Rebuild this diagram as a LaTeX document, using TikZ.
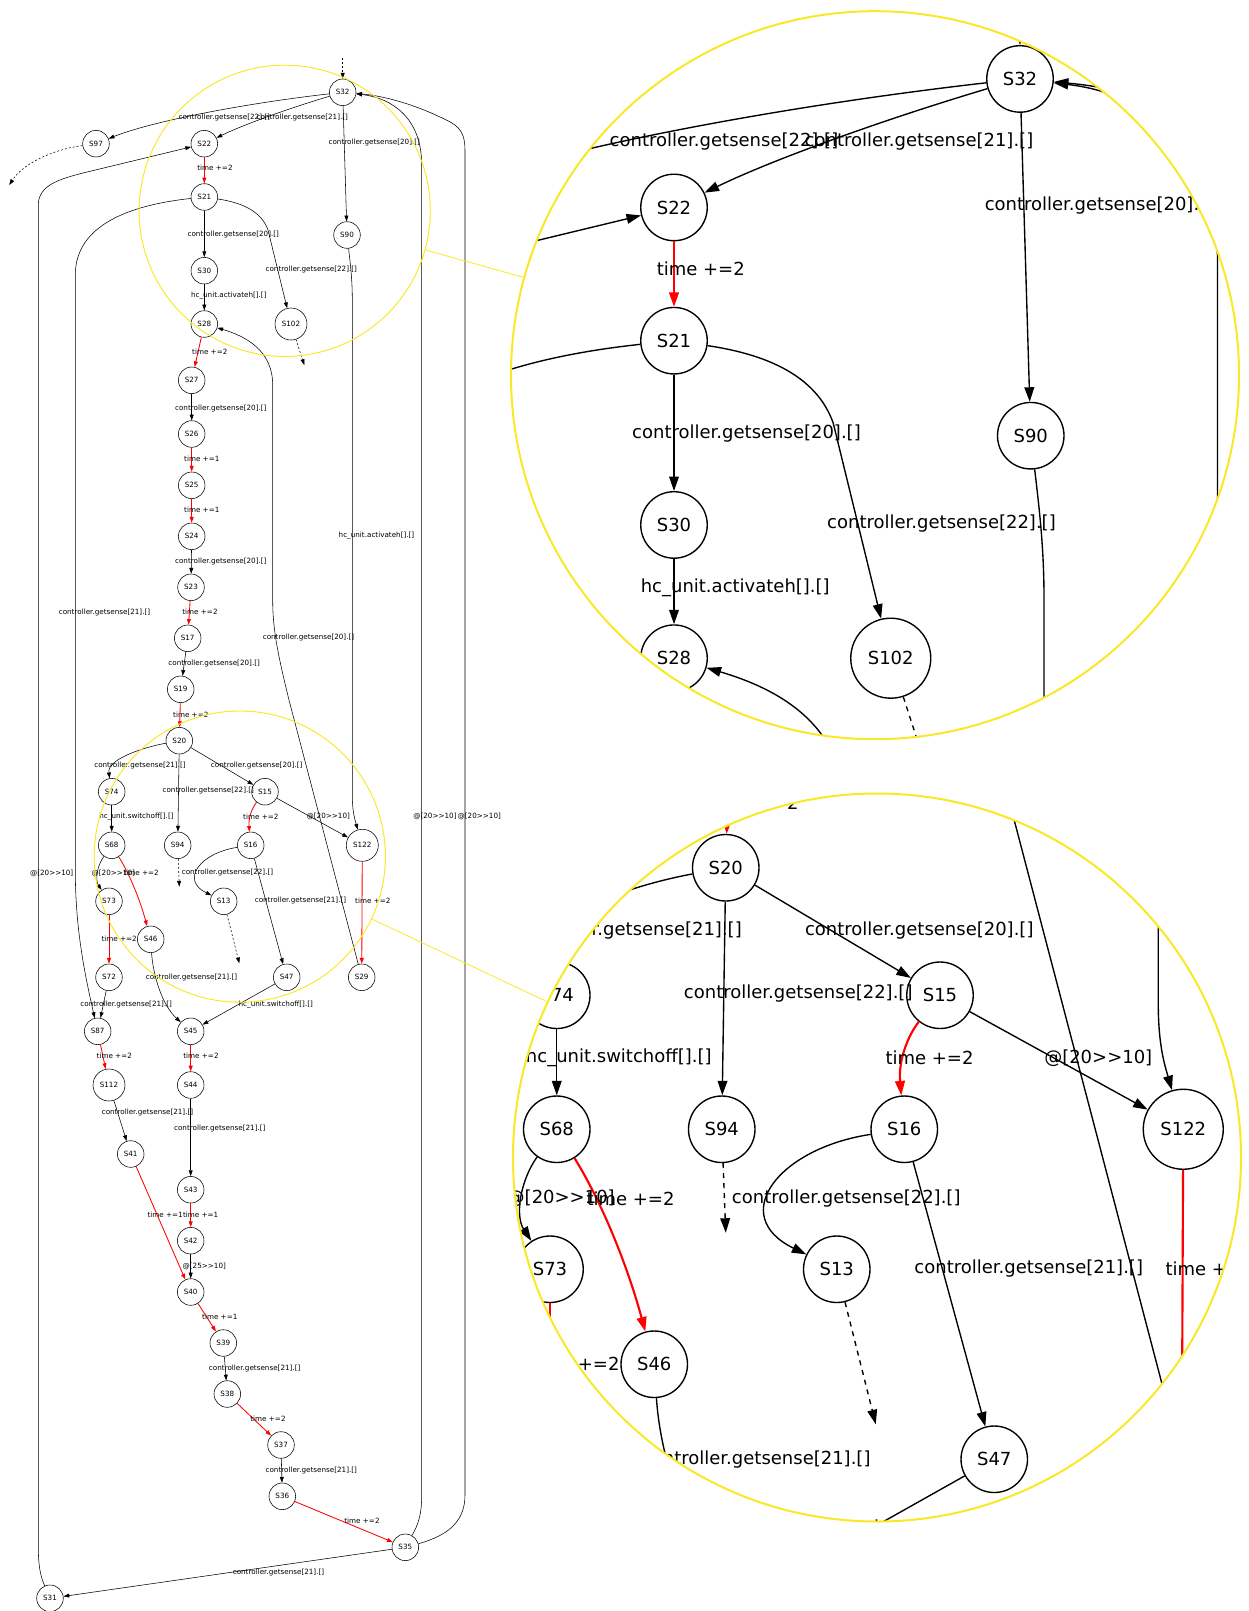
\documentclass[tikz,border=0pt]{standalone}
\usepackage{fontspec}
\setmainfont{DejaVu Sans}
\usetikzlibrary{arrows.meta,spy}

\definecolor{lupa}{RGB}{250,232,40}
\tikzset{
  estado/.style={draw, circle, line width=0.55pt, minimum size=26.6pt, inner sep=0pt},
  estadogrande/.style={estado, minimum size=32pt},
  arista/.style={-{Triangle[length=5.8pt,width=3.9pt]}, line width=0.55pt},
  roja/.style={arista, red, line width=0.85pt},
  libre/.style={arista, dash pattern=on 2pt off 2pt},
  etiqueta/.style={inner sep=0pt},
  foco/.style={circle, draw=lupa, line width=0.9pt, minimum size=291.2pt, inner sep=0pt},
  lente/.style={circle, draw=lupa, line width=2pt, minimum size=728pt, inner sep=0pt},
}

\begin{document}
\begin{tikzpicture}[x=1pt, y=-1pt, font=\fontsize{7.2}{8.6}\selectfont]
  \useasboundingbox (0,0) rectangle (1248,1611);

  \begin{scope}[spy using outlines={circle, lupa, magnification=2.5, size=728pt}]
  % Estados
  \node[estado] (S32) at (342.7,92.3) {S32};
  \node[estado] (S97) at (96,143.7) {S97};
  \node[estado] (S22) at (204.3,143.7) {S22};
  \node[estado] (S21) at (204.3,197) {S21};
  \node[estado] (S90) at (347,235) {S90};
  \node[estado] (S30) at (204.3,270.7) {S30};
  \node[estado] (S28) at (204.3,324) {S28};
  \node[estadogrande] (S102) at (291,324) {S102};
  \node[estado] (S27) at (191.7,380.3) {S27};
  \node[estado] (S26) at (191.7,434) {S26};
  \node[estado] (S25) at (191.7,485.3) {S25};
  \node[estado] (S24) at (191.7,536.3) {S24};
  \node[estado] (S23) at (191,587.3) {S23};
  \node[estado] (S17) at (187.7,638.3) {S17};
  \node[estado] (S19) at (180.7,689.3) {S19};
  \node[estado] (S20) at (179.3,740.7) {S20};
  \node[estado] (S74) at (111.7,791.7) {S74};
  \node[estado] (S15) at (265,791.7) {S15};
  \node[estado] (S68) at (111.7,845.3) {S68};
  \node[estado] (S94) at (177.7,845.3) {S94};
  \node[estado] (S16) at (250.7,845.3) {S16};
  \node[estadogrande] (S122) at (362.3,845.3) {S122};
  \node[estado] (S73) at (109,901.3) {S73};
  \node[estado] (S13) at (223.7,901.3) {S13};
  \node[estado] (S46) at (150.7,939.3) {S46};
  \node[estado] (S72) at (109,977.3) {S72};
  \node[estado] (S47) at (286.7,977.3) {S47};
  \node[estado] (S29) at (361.7,977.3) {S29};
  \node[estado] (S87) at (97.7,1031.3) {S87};
  \node[estado] (S45) at (190.7,1031.3) {S45};
  \node[estadogrande] (S112) at (109,1085) {S112};
  \node[estado] (S44) at (190.7,1085) {S44};
  \node[estado] (S41) at (130.7,1154) {S41};
  \node[estado] (S43) at (190.7,1189.7) {S43};
  \node[estado] (S42) at (190.7,1240.7) {S42};
  \node[estado] (S40) at (190.7,1292) {S40};
  \node[estado] (S39) at (223.3,1343) {S39};
  \node[estado] (S38) at (227.3,1394) {S38};
  \node[estado] (S37) at (281,1445) {S37};
  \node[estado] (S36) at (282.3,1496.3) {S36};
  \node[estado] (S35) at (405.3,1547.3) {S35};
  \node[estado] (S31) at (50,1598.3) {S31};

  % Extremos libres
  \coordinate (inicio) at (342.7,58);
  \coordinate (d97) at (9.3,185);
  \coordinate (d102) at (304.3,365);
  \coordinate (d94) at (179.3,886.7);
  \coordinate (d13) at (239.3,963.3);

  % Aristas rectas
  \foreach \from/\to in {S32/S90, S21/S30, S30/S28, S27/S26, S24/S23, S17/S19, S20/S94, S20/S15,
    S74/S68, S15/S122, S16/S47, S47/S45, S72/S87, S44/S43, S112/S41, S42/S40, S39/S38, S37/S36, S35/S31}
    \draw[arista] (\from) -- (\to);
  \foreach \from/\to in {S22/S21, S28/S27, S26/S25, S25/S24, S23/S17, S19/S20, S122/S29, S73/S72,
    S87/S112, S45/S44, S43/S42, S40/S39, S38/S37, S36/S35, S41/S40}
    \draw[roja] (\from) -- (\to);
  \foreach \from/\to in {inicio/S32, S102/d102, S94/d94, S13/d13}
    \draw[libre] (\from) -- (\to);

  % Aristas curvas
  \draw[libre] (S97) .. controls (50,150) and (22,165) .. (d97);
  \draw[arista] (S32) .. controls (240,104) and (150,122) .. (S97);
  \draw[arista] (S32) .. controls (290,108) and (245,124) .. (S22);
  \draw[arista] (S35) .. controls (418,1525) and (421.7,1515) .. (421.7,1495) -- (421.7,165)
    .. controls (421.7,118) and (392,98) .. (S32);
  \draw[arista] (S35) .. controls (450,1535) and (465,1520) .. (465,1495) -- (465,150)
    .. controls (465,128) and (455,124) .. (440,117) .. controls (415,105) and (385,96) .. (S32);
  \draw[arista] (S21) .. controls (245,203) and (262,213) .. (268,230) -- (S102);
  \draw[arista] (S21) .. controls (130,205) and (75.3,225) .. (75.3,275) -- (75.3,870)
    .. controls (75.3,930) and (85,975) .. (S87);
  \draw[arista] (S29) -- (289,700) .. controls (278,655) and (272.7,630) .. (272.7,600) -- (272.7,385)
    .. controls (272.7,350) and (245,336) .. (S28);
  \draw[arista] (S31) .. controls (40,1575) and (38.3,1565) .. (38.3,1545) -- (38.3,205)
    .. controls (38.3,185) and (60,179) .. (83,173) -- (S22);
  \draw[arista] (S90) .. controls (350.5,265) and (352.3,280) .. (352.3,300) -- (352.3,795)
    .. controls (352.3,812) and (355,820) .. (S122);
  \draw[arista] (S20) .. controls (140,748) and (107,760) .. (S74);
  \draw[roja] (S15) .. controls (252,808) and (248.3,818) .. (S16);
  \draw[arista] (S68) .. controls (97,866) and (95,880) .. (S73);
  \draw[roja] (S68) .. controls (130,875) and (140,900) .. (S46);
  \draw[arista] (S16) .. controls (200,853) and (180,880) .. (S13);
  \draw[arista] (S46) .. controls (153,975) and (162,1005) .. (S45);

  % Etiquetas
  \node[etiqueta] (e1) at (224.3,117.3) {controller.getsense[22].[]};
  \node[etiqueta] (e2) at (302.3,117.3) {controller.getsense[21].[]};
  \node[etiqueta] (e3) at (374.3,143) {controller.getsense[20].[]};
  \node[etiqueta] (e4) at (215,168.3) {time +=2};
  \node[etiqueta] (e5) at (233.3,234.3) {controller.getsense[20].[]};
  \node[etiqueta] (e6) at (311.3,270) {controller.getsense[22].[]};
  \node[etiqueta] (e7) at (228.8,295.7) {hc\_unit.activateh[].[]};
  \node[etiqueta] (e8) at (209.8,351.7) {time +=2};
  \node[etiqueta] (e9) at (220.8,408.3) {controller.getsense[20].[]};
  \node[etiqueta] (e10) at (201.8,459) {time +=1};
  \node[etiqueta] (e11) at (201.8,510.3) {time +=1};
  \node[etiqueta] (e12) at (220.8,561.3) {controller.getsense[20].[]};
  \node[etiqueta] (e13) at (200,612.3) {time +=2};
  \node[etiqueta] (e14) at (104.5,612.3) {controller.getsense[21].[]};
  \node[etiqueta] (e15) at (308.5,638) {controller.getsense[20].[]};
  \node[etiqueta] (e16) at (214.2,663.3) {controller.getsense[20].[]};
  \node[etiqueta] (e17) at (376.5,535.7) {hc\_unit.activateh[].[]};
  \node[etiqueta] (e18) at (190.8,714.7) {time +=2};
  \node[etiqueta] (e19) at (140,765.7) {controller.getsense[21].[]};
  \node[etiqueta] (e20) at (256.7,765.7) {controller.getsense[20].[]};
  \node[etiqueta] (e21) at (208.3,791) {controller.getsense[22].[]};
  \node[etiqueta] (e22) at (136.5,816.7) {hc\_unit.switchoff[].[]};
  \node[etiqueta] (e23) at (260.8,816.7) {time +=2};
  \node[etiqueta] (e24) at (328.3,816.7) {@[20>{}>10]};
  \node[etiqueta] (e25) at (435,816.7) {@[20>{}>10]};
  \node[etiqueta] (e26) at (479.3,816.7) {@[20>{}>10]};
  \node[etiqueta] (e27) at (51.7,873) {@[20>{}>10]};
  \node[etiqueta] (e28) at (113.3,873) {@[20>{}>10]};
  \node[etiqueta] (e29) at (141.2,873) {time +=2};
  \node[etiqueta] (e30) at (227.5,873) {controller.getsense[22].[]};
  \node[etiqueta] (e31) at (300.5,901) {controller.getsense[21].[]};
  \node[etiqueta] (e32) at (372.8,901) {time +=2};
  \node[etiqueta] (e33) at (119.2,939.3) {time +=2};
  \node[etiqueta] (e34) at (191.5,977.3) {controller.getsense[21].[]};
  \node[etiqueta] (e35) at (126.2,1005) {controller.getsense[21].[]};
  \node[etiqueta] (e36) at (275.8,1005) {hc\_unit.switchoff[].[]};
  \node[etiqueta] (e37) at (114.3,1056.3) {time +=2};
  \node[etiqueta] (e38) at (201,1056.3) {time +=2};
  \node[etiqueta] (e39) at (147.5,1112.7) {controller.getsense[21].[]};
  \node[etiqueta] (e40) at (219.8,1128.3) {controller.getsense[21].[]};
  \node[etiqueta] (e41) at (165.2,1214.7) {time +=1};
  \node[etiqueta] (e42) at (200.7,1214.7) {time +=1};
  \node[etiqueta] (e43) at (204.3,1266) {@[25>{}>10]};
  \node[etiqueta] (e44) at (219.8,1317) {time +=1};
  \node[etiqueta] (e45) at (254.7,1368) {controller.getsense[21].[]};
  \node[etiqueta] (e46) at (268,1419) {time +=2};
  \node[etiqueta] (e47) at (311.3,1470.3) {controller.getsense[21].[]};
  \node[etiqueta] (e48) at (362,1521) {time +=2};
  \node[etiqueta] (e49) at (278.5,1572.7) {controller.getsense[21].[]};

  % Lupas
  \spy on (284.7,210.8) in node at (875,375.2);
  \spy on (239.8,856.6) in node at (877,1157.5);
  \end{scope}

  % Contornos de las lupas
  \node[foco] (foco1) at (284.7,210.8) {};
  \node[lente] (lente1) at (875,375.2) {};
  \node[foco] (foco2) at (239.8,856.6) {};
  \node[lente] (lente2) at (877,1157.5) {};
  \draw[lupa, line width=0.8pt] (foco1) -- (lente1);
  \draw[lupa, line width=0.8pt] (foco2) -- (lente2);
\end{tikzpicture}
\end{document}
